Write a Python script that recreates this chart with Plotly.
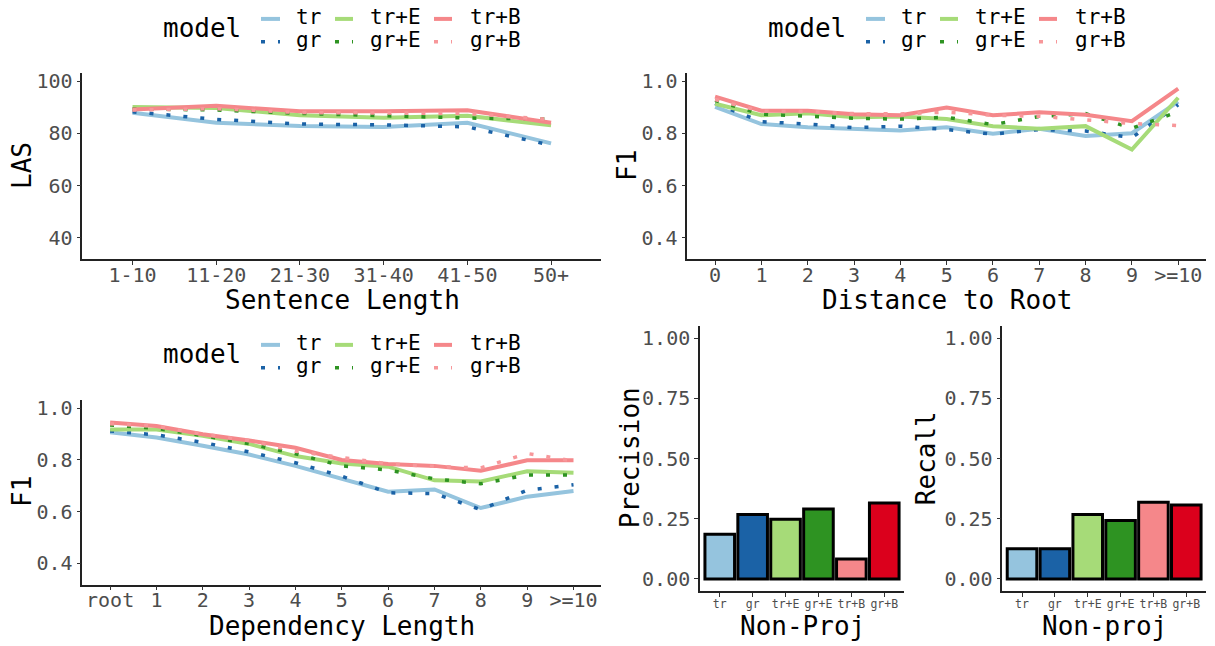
import plotly.graph_objects as go

W, H = 1215, 646
FONT = "DejaVu Sans Mono"

models = ["tr", "gr", "tr+E", "gr+E", "tr+B", "gr+B"]
colors = {"tr": "#95C4DE", "gr": "#1B62A6", "tr+E": "#A6DB78", "gr+E": "#2E9322",
          "tr+B": "#F5878A", "gr+B": "#DB001C"}
line_colors = dict(colors, **{"gr+B": "#F7979A"})
dotted = {"tr": False, "gr": True, "tr+E": False, "gr+E": True, "tr+B": False, "gr+B": True}

# Panel 1: LAS by sentence length
sent_len = ["1-10", "11-20", "21-30", "31-40", "41-50", "50+"]
las_tr = [87.9, 84.1, 82.9, 82.5, 84.1, 76.2]
las_gr = [88.3, 85.4, 83.6, 83.3, 82.5, 75.5]
las_trE = [90.1, 89.8, 87.0, 86.0, 86.8, 83.1]
las_grE = [89.4, 89.0, 87.7, 86.8, 85.9, 85.5]
las_trB = [89.2, 90.6, 88.5, 88.5, 88.9, 84.1]
las_grB = [89.0, 89.5, 88.0, 87.8, 87.7, 85.3]

# Panel 2: F1 by distance to root
dist_root = ["0", "1", "2", "3", "4", "5", "6", "7", "8", "9", ">=10"]
root_tr = [0.902, 0.836, 0.824, 0.816, 0.811, 0.824, 0.799, 0.818, 0.790, 0.801, 0.922]
root_gr = [0.915, 0.845, 0.836, 0.822, 0.828, 0.815, 0.797, 0.815, 0.809, 0.784, 0.910]
root_trE = [0.914, 0.870, 0.877, 0.862, 0.865, 0.855, 0.828, 0.818, 0.828, 0.738, 0.937]
root_grE = [0.927, 0.874, 0.866, 0.858, 0.855, 0.862, 0.834, 0.865, 0.876, 0.820, 0.883]
root_trB = [0.941, 0.887, 0.887, 0.874, 0.870, 0.899, 0.870, 0.881, 0.872, 0.847, 0.972]
root_grB = [0.930, 0.885, 0.884, 0.876, 0.875, 0.882, 0.870, 0.866, 0.852, 0.838, 0.830]

# Panel 3: F1 by dependency length
dep_len = ["root", "1", "2", "3", "4", "5", "6", "7", "8", "9", ">=10"]
dep_tr = [0.907, 0.887, 0.855, 0.821, 0.777, 0.727, 0.677, 0.686, 0.614, 0.658, 0.680]
dep_gr = [0.912, 0.897, 0.868, 0.831, 0.789, 0.737, 0.673, 0.670, 0.608, 0.683, 0.704]
dep_trE = [0.918, 0.918, 0.893, 0.862, 0.815, 0.786, 0.774, 0.721, 0.717, 0.756, 0.750]
dep_grE = [0.935, 0.922, 0.894, 0.863, 0.824, 0.777, 0.761, 0.727, 0.708, 0.742, 0.742]
dep_trB = [0.945, 0.931, 0.899, 0.875, 0.847, 0.800, 0.784, 0.777, 0.758, 0.799, 0.799]
dep_grB = [0.940, 0.930, 0.900, 0.875, 0.834, 0.810, 0.785, 0.775, 0.769, 0.825, 0.796]

# Panels 4-5: non-projective precision / recall
nonproj_precision = [0.186, 0.268, 0.248, 0.290, 0.083, 0.315]
nonproj_recall = [0.125, 0.125, 0.268, 0.243, 0.319, 0.307]

las = dict(zip(models, [las_tr, las_gr, las_trE, las_grE, las_trB, las_grB]))
root = dict(zip(models, [root_tr, root_gr, root_trE, root_grE, root_trB, root_grB]))
dep = dict(zip(models, [dep_tr, dep_gr, dep_trE, dep_grE, dep_trB, dep_grB]))

DOT = "4px,13px"


def hx(x):
    return x / W


def vy(y):
    return 1 - y / H


fig = go.Figure()


def line_style(m):
    if dotted[m]:
        return dict(color=line_colors[m], width=3.5, dash=DOT)
    return dict(color=line_colors[m], width=4)


for xs, data, ax in [(sent_len, las, ""), (dist_root, root, "2"), (dep_len, dep, "3")]:
    for m in models:
        fig.add_trace(go.Scatter(x=xs, y=data[m], mode="lines", line=line_style(m),
                                 name=m, showlegend=False,
                                 xaxis="x" + ax, yaxis="y" + ax))

for vals, ax in [(nonproj_precision, "4"), (nonproj_recall, "5")]:
    fig.add_trace(go.Bar(x=models, y=vals, width=0.9,
                         marker=dict(color=[colors[m] for m in models],
                                     line=dict(color="black", width=3)),
                         showlegend=False, xaxis="x" + ax, yaxis="y" + ax))

axis_common = dict(showline=True, linecolor="#222222", linewidth=1.5, ticks="outside",
                   ticklen=4, tickwidth=1.3, tickcolor="#333333", showgrid=False,
                   zeroline=False, tickfont=dict(family=FONT, size=20, color="#4D4D4D"))

panels = {
    "": dict(x=(82.3, 601.3), y=(69.3, 256.7), n=len(sent_len),
             yr=[31.75, 103.25], yt=[40, 60, 80, 100], fmt="d"),
    "2": dict(x=(687.3, 1206), y=(69.3, 256.7), n=len(dist_root),
              yr=[0.3175, 1.0325], yt=[0.4, 0.6, 0.8, 1.0], fmt=".1f"),
    "3": dict(x=(82.3, 601.3), y=(398.3, 584.3), n=len(dep_len),
              yr=[0.3175, 1.0325], yt=[0.4, 0.6, 0.8, 1.0], fmt=".1f"),
    "4": dict(x=(700, 904), y=(324, 590.7), n=len(models),
              yr=[-0.05, 1.05], yt=[0, 0.25, 0.5, 0.75, 1.0], fmt=".2f"),
    "5": dict(x=(1002.3, 1206), y=(324, 590.7), n=len(models),
              yr=[-0.05, 1.05], yt=[0, 0.25, 0.5, 0.75, 1.0], fmt=".2f"),
}

layout_axes = {}
for ax, p in panels.items():
    xa = dict(axis_common)
    xa.update(type="category", domain=[hx(p["x"][0]), hx(p["x"][1])],
              range=[-0.6, p["n"] - 0.4], anchor="y" + ax, ticklabelstandoff=-7)
    if ax in ("4", "5"):
        xa["tickfont"] = dict(family=FONT, size=11.5, color="#4D4D4D")
        xa["ticklabelstandoff"] = -3
    ya = dict(axis_common)
    ya.update(domain=[vy(p["y"][1]), vy(p["y"][0])], range=p["yr"],
              tickvals=p["yt"], tickformat=p["fmt"], anchor="x" + ax)
    layout_axes["xaxis" + ax] = xa
    layout_axes["yaxis" + ax] = ya

fig.update_layout(**layout_axes)

annotations = []
shapes = []


def text(x, y, s, size, color="black", xanchor="center", angle=0):
    annotations.append(dict(x=hx(x), y=vy(y), xref="paper", yref="paper", text=s,
                            showarrow=False, xanchor=xanchor, yanchor="middle",
                            textangle=angle,
                            font=dict(family=FONT, size=size, color=color)))


# axis titles
text(342, 298, "Sentence Length", 26)
text(947, 298, "Distance to Root", 26)
text(342, 626, "Dependency Length", 26)
text(802, 626, "Non-Proj", 26)
text(1104, 626, "Non-proj", 26)
text(22, 163, "LAS", 26, angle=-90)
text(627, 163, "F1", 26, angle=-90)
text(22, 491, "F1", 26, angle=-90)
text(630, 457, "Precision", 26, angle=-90)
text(926, 457, "Recall", 26, angle=-90)

# legends (ggplot style: title on left, 2 rows x 3 columns)
key_x = [(261, 280), (335, 353), (434, 452)]
lab_x = [294, 368, 468]
rows = [["tr", "tr+E", "tr+B"], ["gr", "gr+E", "gr+B"]]
for dx, dy in [(0, 0), (605, 0), (0, 328)]:
    text(243 + dx, 24 + dy, "model", 26, xanchor="right")
    for r, row_y in enumerate([15, 38]):
        for c, m in enumerate(rows[r]):
            ln = line_style(m)
            shapes.append(dict(type="line", xref="paper", yref="paper",
                               x0=hx(key_x[c][0] + dx), x1=hx(key_x[c][1] + dx),
                               y0=vy(row_y + dy), y1=vy(row_y + dy), line=ln))
            text(lab_x[c] + dx, row_y - 2 + dy, m, 21, xanchor="left")

fig.update_layout(width=W, height=H, margin=dict(l=0, r=0, t=0, b=0),
                  paper_bgcolor="white", plot_bgcolor="white",
                  annotations=annotations, shapes=shapes, showlegend=False,
                  bargap=0.1)

fig.write_html("out.html", config={"displayModeBar": False},
               post_script="document.body.style.margin='0';")
